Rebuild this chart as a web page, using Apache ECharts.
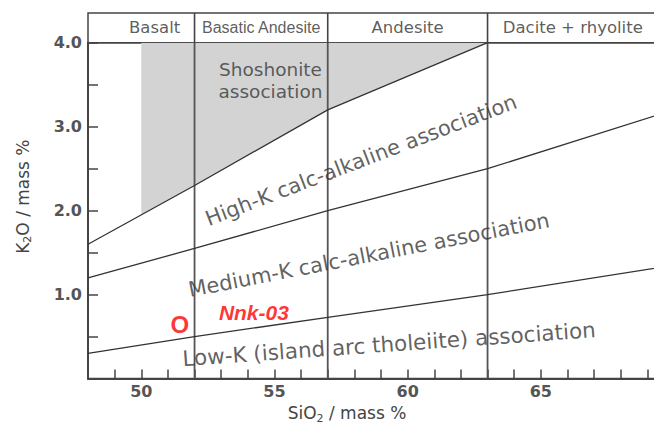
<!DOCTYPE html>
<html><head><meta charset="utf-8">
<script src="https://cdn.jsdelivr.net/npm/echarts@6.0.0/dist/echarts.min.js"></script>
<style>html,body{margin:0;padding:0;background:#fff}#c{width:654px;height:428px}</style>
</head><body><div id="c"></div>
<script>
// ---- data ----
const xTickLabels = ['50', '55', '60', '65'];
const yTickLabels = ['1.0', '2.0', '3.0', '4.0'];
const rockTypes = ['Basalt', 'Basatic Andesite', 'Andesite', 'Dacite + rhyolite'];
const rockTypeCentres = [50.5, 54.5, 60, 66.2];
const rockBoundaries = [52, 57, 63];
const shoshoniteHighK = [[48, 1.6], [52, 2.3], [57, 3.2], [63, 4.0]];
const highMediumK = [[48, 1.2], [52, 1.55], [57, 2.0], [63, 2.5], [70, 3.2]];
const mediumLowK = [[48, 0.3], [52, 0.5], [57, 0.73], [63, 1.0], [70, 1.35]];
const shoshoniteField = [[50, 1.95], [52, 2.3], [57, 3.2], [63, 4.0]];
const fieldNames = ['Shoshonite', 'association', 'High-K calc-alkaline association',
  'Medium-K calc-alkaline association', 'Low-K (island arc tholeiite) association'];
const sampleNames = ['Nnk-03'];
const sampleSiO2 = [51.45];
const sampleK2O = [0.65];

// ---- layout / style ----
const fieldAnchors = [[54.85, 3.68], [54.85, 3.42], [58.25, 2.6], [58.55, 1.47], [59.3, 0.41]];
const fieldAngles = [0, 0, 21, 11, 4];
const fieldSizes = [18.5, 18.5, 21, 21, 21.5];
const FONT = "'DejaVu Sans', sans-serif";
const AX = '#444';

const chart = echarts.init(document.getElementById('c'), null, {renderer: 'svg'});

const series = [];
series.push({
  type: 'line', xAxisIndex: 0, yAxisIndex: 0, data: shoshoniteField, symbol: 'none', silent: true, z: 1,
  lineStyle: {width: 0}, areaStyle: {color: '#d3d3d3', opacity: 1, origin: 'end'}
});
[shoshoniteHighK, highMediumK, mediumLowK].forEach(d => series.push({
  type: 'line', xAxisIndex: 0, yAxisIndex: 0, data: d, symbol: 'none', silent: true, z: 3,
  lineStyle: {color: '#333', width: 1.3}
}));
rockBoundaries.forEach(x => {
  series.push({type: 'line', xAxisIndex: 0, yAxisIndex: 0, data: [[x, 0], [x, 4]], symbol: 'none', silent: true, z: 2,
    lineStyle: {color: '#555', width: 1.8}});
  series.push({type: 'line', xAxisIndex: 1, yAxisIndex: 1, data: [[x, 0], [x, 1]], symbol: 'none', silent: true, z: 2,
    lineStyle: {color: '#444', width: 1.6}});
});
rockTypes.forEach((t, i) => series.push({
  type: 'scatter', xAxisIndex: 1, yAxisIndex: 1, data: [[rockTypeCentres[i], 0.5]], symbolSize: 1,
  itemStyle: {color: 'rgba(0,0,0,0)'}, silent: true, z: 5,
  label: {show: true, position: 'inside', formatter: t, color: '#333', fontSize: i === 1 ? 16 : 16.5,
    fontFamily: i === 1 ? "'Liberation Sans Narrow','Liberation Sans', sans-serif" : FONT}
}));
fieldNames.forEach((t, i) => series.push({
  type: 'scatter', xAxisIndex: 0, yAxisIndex: 0, data: [fieldAnchors[i]], symbolSize: 1,
  itemStyle: {color: 'rgba(0,0,0,0)'}, silent: true, z: 5,
  label: {show: true, position: 'inside', formatter: t, rotate: fieldAngles[i], color: '#383838',
    fontSize: fieldSizes[i], lineHeight: fieldSizes[i], fontFamily: FONT}
}));
const samples = sampleNames.map((n, i) => [sampleSiO2[i], sampleK2O[i], n]);
series.push({
  type: 'scatter', xAxisIndex: 0, yAxisIndex: 0, data: samples, symbolSize: 1,
  itemStyle: {color: 'rgba(0,0,0,0)'}, z: 6,
  label: {show: true, position: 'inside', formatter: 'O', color: '#ff0000', fontSize: 24, fontWeight: 'bold',
    fontFamily: "'Liberation Sans', sans-serif"}
});
series.push({
  type: 'scatter', xAxisIndex: 0, yAxisIndex: 0, data: samples, symbolSize: 1,
  itemStyle: {color: 'rgba(0,0,0,0)'}, z: 6,
  label: {show: true, position: 'inside', offset: [74, -12], formatter: p => p.data[2], color: '#ff0000',
    fontSize: 21, fontWeight: 'bold', fontStyle: 'italic', fontFamily: "'Liberation Sans', sans-serif"}
});

const option = {
  animation: false,
  backgroundColor: '#fff',
  grid: [
    {left: 88, right: -20, top: 42.7, bottom: 49.4, show: true, borderColor: AX, borderWidth: 1.5,
      containLabel: false, outerBoundsMode: 'none'},
    {left: 88, right: -20, top: 13, height: 29.7, show: true, borderColor: AX, borderWidth: 1.5,
      containLabel: false, outerBoundsMode: 'none'}
  ],
  xAxis: [
    {gridIndex: 0, type: 'value', min: 48, max: 70, interval: 1,
      axisLine: {lineStyle: {color: AX, width: 2}},
      axisTick: {inside: true, length: 9, lineStyle: {color: AX, width: 1.5}},
      axisLabel: {formatter: v => xTickLabels.includes(String(v)) ? String(v) : '', color: '#555',
        fontWeight: 'bold', fontSize: 16, margin: 5, fontFamily: FONT},
      splitLine: {show: false},
      name: '{a|SiO}{s|2}{a| / mass %}', nameLocation: 'middle', nameGap: 22,
      nameTextStyle: {padding: [0, 68, 0, 0], rich: {
        a: {fontSize: 17, color: '#444', fontFamily: FONT},
        s: {fontSize: 11, color: '#444', fontFamily: FONT, padding: [10, 0, 0, 0]}}}
    },
    {gridIndex: 1, type: 'value', min: 48, max: 70, show: false}
  ],
  yAxis: [
    {gridIndex: 0, type: 'value', min: 0, max: 4, interval: 0.5,
      axisLine: {show: true, lineStyle: {color: AX, width: 2}},
      axisTick: {show: true, inside: true, length: 10, lineStyle: {color: AX, width: 1.5}},
      axisLabel: {formatter: v => yTickLabels.includes(v.toFixed(1)) ? v.toFixed(1) : '', color: '#555',
        fontWeight: 'bold', fontSize: 16, margin: 6, fontFamily: FONT},
      splitLine: {show: false},
      name: '{a|K}{s|2}{a|O / mass %}', nameLocation: 'middle', nameGap: 55,
      nameTextStyle: {padding: [0, 0, 0, 28], rich: {
        a: {fontSize: 17, color: '#444', fontFamily: FONT},
        s: {fontSize: 11, color: '#444', fontFamily: FONT, padding: [10, 0, 0, 0]}}}
    },
    {gridIndex: 1, type: 'value', min: 0, max: 1, show: false}
  ],
  series: series
};
chart.setOption(option);
</script></body></html>
